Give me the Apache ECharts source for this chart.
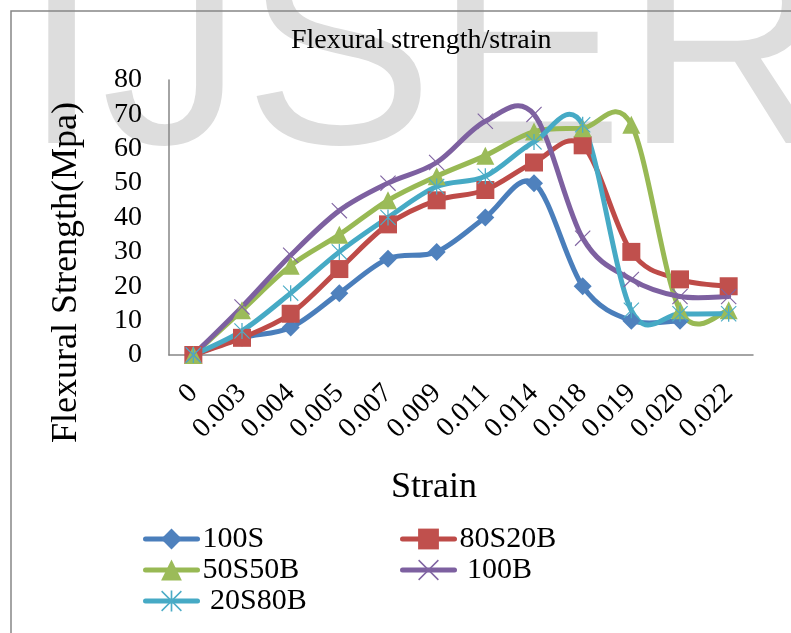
<!DOCTYPE html>
<html>
<head>
<meta charset="utf-8">
<title>Flexural strength/strain</title>
<script src="https://cdn.jsdelivr.net/npm/echarts@6/dist/echarts.min.js"></script>
<style>
	html, body { margin: 0; padding: 0; background: #ffffff; }
	#chart { width: 791px; height: 633px; }
</style>
</head>
<body>
<div id="chart"></div>
<script>
	// x categories (strain)
	var strain = ['0', '0.003', '0.004', '0.005', '0.007', '0.009', '0.011', '0.014', '0.018', '0.019', '0.020', '0.022'];
	// flexural strength, Mpa
	var s100S = [0, 5, 8, 18, 28, 30, 40, 50, 20, 10, 10];
	var s80S20B = [0, 5, 12, 25, 38, 45, 48, 56, 61, 30, 22, 20];
	var s50S50B = [0, 13, 26, 35, 45, 52, 58, 65, 66, 67, 13, 13];
	var s100B = [0, 14, 29, 42, 50, 56, 68, 70, 34, 22, 17, 17];
	var s20S80B = [0, 7, 18, 30, 40, 49, 52, 62, 67, 13, 12, 12];
	var yMin = 0, yMax = 80, yStep = 10;

	var serif = '"Liberation Serif", "Times New Roman", serif';
	var xPath = 'path://M0,1 L1,0 L20,19 L19,20 Z M19,0 L20,1 L1,20 L0,19 Z';
	var starPath = 'path://M0,1 L1,0 L20,19 L19,20 Z M19,0 L20,1 L1,20 L0,19 Z M9.2,0 L10.8,0 L10.8,20 L9.2,20 Z';

	// Excel style smoothed line (catmull-rom like), lets the curve overshoot the points
	function curve(name, values, color) {
		return {
			name: name + '-curve',
			type: 'custom',
			silent: true,
			data: values.map(function (v, i) { return [i, v]; }),
			encode: { x: 0, y: 1 },
			renderItem: function (params, api) {
				if (params.dataIndex !== 0) {
					return;
				}
				var pts = values.map(function (v, i) { return api.coord([i, v]); });
				var n = pts.length;
				var d = 'M' + pts[0][0] + ' ' + pts[0][1];
				for (var i = 0; i < n - 1; i++) {
					var p0 = pts[Math.max(i - 1, 0)];
					var p1 = pts[i];
					var p2 = pts[i + 1];
					var p3 = pts[Math.min(i + 2, n - 1)];
					var c1x = p1[0] + (p2[0] - p0[0]) / 6;
					var c1y = p1[1] + (p2[1] - p0[1]) / 6;
					var c2x = p2[0] - (p3[0] - p1[0]) / 6;
					var c2y = p2[1] - (p3[1] - p1[1]) / 6;
					d += ' C' + c1x + ' ' + c1y + ' ' + c2x + ' ' + c2y + ' ' + p2[0] + ' ' + p2[1];
				}
				return {
					type: 'path',
					shape: { pathData: d },
					style: { fill: 'none', stroke: color, lineWidth: 5, lineJoin: 'round', lineCap: 'round' }
				};
			}
		};
	}

	function marks(name, values, lineColor, markColor, symbol, size) {
		return {
			name: name,
			type: 'line',
			data: values,
			symbol: symbol,
			symbolSize: size,
			showSymbol: true,
			lineStyle: { color: lineColor, width: 0, opacity: 0 },
			itemStyle: { color: markColor },
			emphasis: { disabled: true }
		};
	}

	var legendText = { fontFamily: serif, fontSize: 30, lineHeight: 30, color: '#000000' };
	var legendLine = { width: 5, opacity: 1, cap: 'round' };

	var chart = echarts.init(document.getElementById('chart'));
	chart.setOption({
		animation: false,
		backgroundColor: '#ffffff',
		graphic: [
			{
				type: 'text',
				z: -10,
				silent: true,
				style: {
					text: 'IJSER',
					x: 22,
					y: -78,
					verticalAlign: 'top',
					font: '285px "Liberation Sans", Arial, sans-serif',
					fill: '#dddddd'
				}
			},
			{
				type: 'rect',
				z: -5,
				silent: true,
				shape: { x: 11, y: 11, width: 800, height: 700 },
				style: { fill: null, stroke: '#868686', lineWidth: 1.5 }
			}
		],
		title: {
			text: 'Flexural strength/strain',
			left: 291,
			top: 27,
			padding: 0,
			textStyle: { fontFamily: serif, fontSize: 28, fontWeight: 'normal', color: '#000000' }
		},
		legend: [
			{
				orient: 'vertical',
				left: 143,
				top: 524,
				padding: 0,
				itemWidth: 52,
				itemHeight: 26,
				itemGap: 1,
				textStyle: legendText,
				lineStyle: legendLine,
				data: ['100S', '50S50B', ' 20S80B']
			},
			{
				orient: 'vertical',
				left: 400,
				top: 524,
				padding: 0,
				itemWidth: 52,
				itemHeight: 26,
				itemGap: 1,
				textStyle: legendText,
				lineStyle: legendLine,
				data: ['80S20B', ' 100B']
			}
		],
		grid: {
			left: 169,
			right: 38,
			top: 80,
			bottom: 278,
			containLabel: false,
			outerBoundsMode: 'none'
		},
		xAxis: {
			type: 'category',
			data: strain,
			boundaryGap: true,
			name: 'Strain',
			nameLocation: 'middle',
			nameGap: 115,
			nameTextStyle: { fontFamily: serif, fontSize: 36, color: '#000000', padding: [0, 54, 0, 0] },
			axisLine: { lineStyle: { color: '#868686', width: 1.5 } },
			axisTick: { show: false },
			axisLabel: {
				rotate: 45,
				margin: 34,
				interval: 0,
				fontFamily: serif,
				fontSize: 28,
				color: '#000000'
			},
			splitLine: { show: false }
		},
		yAxis: {
			type: 'value',
			min: yMin,
			max: yMax,
			interval: yStep,
			name: 'Flexural Strength(Mpa)',
			nameLocation: 'middle',
			nameGap: 84,
			nameTextStyle: { fontFamily: serif, fontSize: 36, color: '#000000', padding: [0, 110, 0, 0] },
			axisLine: { show: true, lineStyle: { color: '#868686', width: 1.5 } },
			axisTick: { show: false },
			axisLabel: { margin: 27, fontFamily: serif, fontSize: 28, color: '#000000' },
			splitLine: { show: false }
		},
		series: [
			curve('100S', s100S, '#4A7EBB'),
			marks('100S', s100S, '#4A7EBB', '#4F81BD', 'diamond', 18),
			curve('80S20B', s80S20B, '#BE4B48'),
			marks('80S20B', s80S20B, '#BE4B48', '#C0504D', 'rect', 18),
			curve('50S50B', s50S50B, '#98B954'),
			marks('50S50B', s50S50B, '#98B954', '#9BBB59', 'triangle', 18),
			curve(' 100B', s100B, '#7D60A0'),
			marks(' 100B', s100B, '#7D60A0', '#8064A2', xPath, 16),
			curve(' 20S80B', s20S80B, '#46AAC5'),
			marks(' 20S80B', s20S80B, '#46AAC5', '#4BACC6', starPath, 16)
		]
	});
</script>
</body>
</html>
